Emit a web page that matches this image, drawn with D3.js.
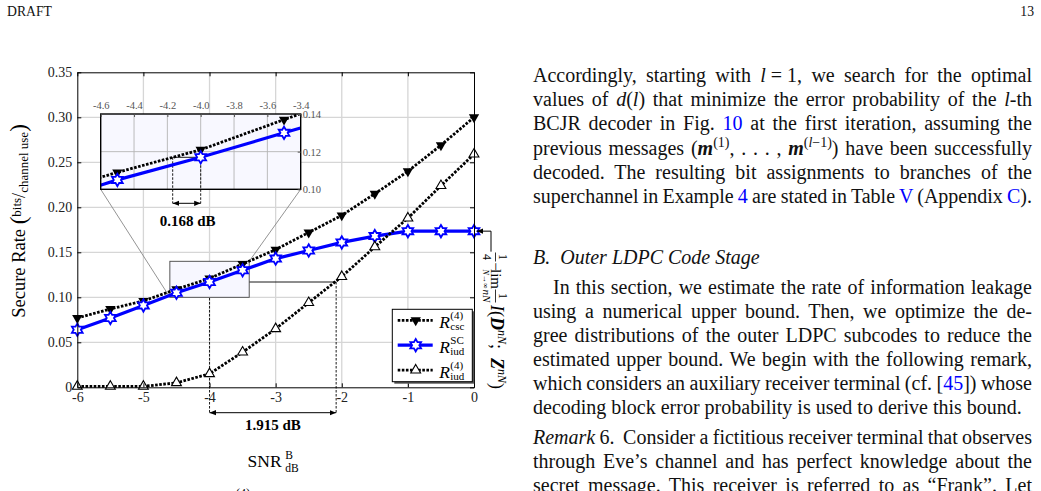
<!DOCTYPE html>
<html>
<head>
<meta charset="utf-8">
<script src="https://cdn.jsdelivr.net/npm/d3@7/dist/d3.min.js"></script>
<style>
  body { margin: 0; background: #fff; }
  #page { position: relative; width: 1041px; height: 491px; overflow: hidden;
          font-family: "Liberation Serif", "Times New Roman", serif; color: #111; }
  #page svg { position: absolute; left: 0; top: 0; }
  .ln { position: absolute; left: 533px; width: 499px; height: 24px; line-height: 24px;
        font-size: 20px; white-space: nowrap; text-align: justify; text-align-last: justify;
        word-spacing: -2px; }
  .ln.last { text-align-last: left; word-spacing: 0; }
  .lk { color: #0000ff; }
  .sp { font-size: 14px; position: relative; top: -8px; line-height: 0; }
</style>
</head>
<body>
<div id="page"></div>
<script>
// values
var snr    = [-6, -5.5, -5, -4.5, -4, -3.5, -3, -2.5, -2, -1.5, -1, -0.5, 0];
var rCsc   = [0.077, 0.087, 0.096, 0.109, 0.121, 0.137, 0.153, 0.172, 0.191, 0.215, 0.240, 0.269, 0.300];
var rIudSC = [0.064, 0.077, 0.091, 0.105, 0.117, 0.130, 0.143, 0.152, 0.161, 0.168, 0.1735, 0.1735, 0.1735];
var rIud4  = [0.001, 0.001, 0.001, 0.005, 0.015, 0.039, 0.065, 0.094, 0.123, 0.156, 0.188, 0.224, 0.259];
var xTicks = [-6, -5, -4, -3, -2, -1, 0];
var yTicks = [0, 0.05, 0.10, 0.15, 0.20, 0.25, 0.30, 0.35];
var zoomX = [-4.6, -3.4];
var zoomY = [0.10, 0.14];
var zoomXTicks = [-4.6, -4.4, -4.2, -4.0, -3.8, -3.6, -3.4];
var zoomYTicks = [0.10, 0.12, 0.14];
var refSnr = -4;        // where the gaps are measured
var gapSmall = 0.168;   // dB, csc vs SC
var gapBig = 1.915;     // dB, SC vs iud(4)

var series = [
  {name: "csc", vals: rCsc,   color: "#000", dash: "2.6,1.5", w: 2.8, mark: "down", sup: "(4)", sub: "csc"},
  {name: "sc",  vals: rIudSC, color: "#0000ff", dash: null,   w: 3.2, mark: "hex",  sup: "SC",  sub: "iud"},
  {name: "iud", vals: rIud4,  color: "#000", dash: "2.6,1.5", w: 2.8, mark: "up",   sup: "(4)", sub: "iud"}
];

var margin = {top: 72.3, right: 567, bottom: 103.7, left: 77.3},
    W = 1041, H = 491;

var page = d3.select("#page");
var svg = page.append("svg").attr("width", W).attr("height", H)
    .style("font-family", '"Liberation Serif","Times New Roman",serif');

var x = d3.scaleLinear().domain([-6, 0]).range([margin.left, W - margin.right]);
var y = d3.scaleLinear().domain([0, 0.35]).range([H - margin.bottom, margin.top]);

var defs = svg.append("defs");
defs.append("marker").attr("id", "arr").attr("viewBox", "0 0 10 10")
    .attr("refX", 10).attr("refY", 5).attr("markerWidth", 6.5).attr("markerHeight", 6.5)
    .attr("markerUnits", "userSpaceOnUse").attr("orient", "auto-start-reverse")
  .append("path").attr("d", "M0,1L10,5L0,9Z").attr("fill", "#000");

// header
svg.append("text").attr("x", 7).attr("y", 16).attr("font-size", 13.7).attr("fill", "#111").text("DRAFT");
svg.append("text").attr("x", 1034).attr("y", 16).attr("font-size", 13.7).attr("fill", "#111")
    .attr("text-anchor", "end").text("13");

// grid
var grid = svg.append("g").attr("stroke", "#d6d6d6").attr("stroke-width", 1.3);
grid.selectAll(".gx").data(xTicks.slice(1, -1)).enter().append("line")
    .attr("x1", d => x(d)).attr("x2", d => x(d)).attr("y1", y(0)).attr("y2", y(0.35));
grid.selectAll(".gy").data(yTicks.slice(1, -1)).enter().append("line")
    .attr("x1", x(-6)).attr("x2", x(0)).attr("y1", d => y(d)).attr("y2", d => y(d));

// gap annotation on the main plot
var yRef = y(rIudSC[snr.indexOf(refSnr)]);
var xL = x(refSnr), xR = x(refSnr + gapBig), arrowY = y(0) + 25.4;
var ann = svg.append("g").attr("stroke", "#000").attr("fill", "none");
ann.append("line").attr("x1", xL).attr("x2", xR).attr("y1", yRef).attr("y2", yRef).attr("stroke-width", 0.9);
ann.selectAll(".dv").data([xL, xR]).enter().append("line")
    .attr("x1", d => d).attr("x2", d => d).attr("y1", yRef).attr("y2", arrowY)
    .attr("stroke-width", 0.9).attr("stroke-dasharray", "2.5,1.5");
ann.append("line").attr("x1", xL).attr("x2", xR).attr("y1", arrowY).attr("y2", arrowY)
    .attr("stroke-width", 1).attr("marker-start", "url(#arr)").attr("marker-end", "url(#arr)");
svg.append("text").attr("x", (xL + xR) / 2).attr("y", arrowY + 17.5).attr("text-anchor", "middle")
    .attr("font-size", 15).attr("font-weight", "bold").text(gapBig.toFixed(3) + " dB");

// zoom window on the main plot
svg.append("rect").attr("x", x(zoomX[0])).attr("y", y(zoomY[1]))
    .attr("width", x(zoomX[1]) - x(zoomX[0])).attr("height", y(zoomY[0]) - y(zoomY[1]))
    .attr("fill", "#f7f7ff").attr("stroke", "#444").attr("stroke-width", 0.9);

// inset scales
var xi = d3.scaleLinear().domain(zoomX).range([100.7, 300.7]);
var yi = d3.scaleLinear().domain(zoomY).range([189.3, 114]);

// connectors
var con = svg.append("g").attr("stroke", "#888").attr("stroke-width", 0.9);
con.append("line").attr("x1", x(zoomX[0])).attr("y1", y(zoomY[0])).attr("x2", xi(zoomX[0])).attr("y2", yi(zoomY[0]));
con.append("line").attr("x1", x(zoomX[1])).attr("y1", y(zoomY[1])).attr("x2", xi(zoomX[1])).attr("y2", yi(zoomY[0]));

// markers
var hexPath = d3.lineRadial().curve(d3.curveLinearClosed)
    .angle((d, i) => i * Math.PI / 6).radius((d, i) => i % 2 ? 6.2 / Math.sqrt(3) : 6.2)(d3.range(12));
function drawMarker(g, type, cx, cy) {
  if (type === "down") {
    g.append("path").attr("d", d3.symbol(d3.symbolTriangle, 46)())
      .attr("transform", "translate(" + cx + "," + cy + ") rotate(180)").attr("fill", "#000");
  } else if (type === "up") {
    g.append("path").attr("d", d3.symbol(d3.symbolTriangle, 42)())
      .attr("transform", "translate(" + cx + "," + cy + ")")
      .attr("fill", "#fff").attr("stroke", "#000").attr("stroke-width", 1.1);
  } else {
    g.append("path").attr("d", hexPath)
      .attr("transform", "translate(" + cx + "," + cy + ")")
      .attr("fill", "#fff").attr("stroke", "#0000ff").attr("stroke-width", 1.8);
  }
}

function drawSeries(g, sx, sy) {
  series.forEach(function (s) {
    var line = d3.line().x((d, i) => sx(snr[i])).y(d => sy(d));
    g.append("path").datum(s.vals).attr("d", line).attr("fill", "none")
      .attr("stroke", s.color).attr("stroke-width", s.w)
      .attr("stroke-dasharray", s.dash);
    s.vals.forEach(function (v, i) { drawMarker(g, s.mark, sx(snr[i]), sy(v)); });
  });
}

drawSeries(svg.append("g"), x, y);

// axes, ticks pointing inwards on all four sides
function styleAxis(g) {
  g.select(".domain").attr("stroke", "#000").attr("stroke-width", 1);
  g.selectAll(".tick line").attr("stroke", "#000");
  g.selectAll(".tick text").attr("fill", "#222").attr("font-size", 14)
    .attr("font-family", '"Liberation Serif","Times New Roman",serif');
}
svg.append("g").attr("transform", "translate(0," + y(0) + ")")
  .call(d3.axisBottom(x).tickValues(xTicks).tickFormat(d => String(d)).tickSizeInner(-4).tickSizeOuter(0).tickPadding(5))
  .call(styleAxis);
svg.append("g").attr("transform", "translate(0," + y(0.35) + ")")
  .call(d3.axisTop(x).tickValues(xTicks).tickFormat("").tickSizeInner(-4).tickSizeOuter(0))
  .call(styleAxis);
svg.append("g").attr("transform", "translate(" + x(-6) + ",0)")
  .call(d3.axisLeft(y).tickValues(yTicks).tickFormat(d => d === 0 ? "0" : d.toFixed(2)).tickSizeInner(-4).tickSizeOuter(0).tickPadding(5))
  .call(styleAxis);
svg.append("g").attr("transform", "translate(" + x(0) + ",0)")
  .call(d3.axisRight(y).tickValues(yTicks).tickFormat("").tickSizeInner(-4).tickSizeOuter(0))
  .call(styleAxis);

// inset
var inset = svg.append("g");
defs.append("clipPath").attr("id", "zclip").append("rect")
    .attr("x", xi(zoomX[0])).attr("y", yi(zoomY[1]))
    .attr("width", xi(zoomX[1]) - xi(zoomX[0])).attr("height", yi(zoomY[0]) - yi(zoomY[1]));
inset.append("rect").attr("x", xi(zoomX[0])).attr("y", yi(zoomY[1]))
    .attr("width", xi(zoomX[1]) - xi(zoomX[0])).attr("height", yi(zoomY[0]) - yi(zoomY[1]))
    .attr("fill", "#f8f8ff");
var ig = inset.append("g").attr("stroke", "#b4b4b4").attr("stroke-width", 0.9);
ig.selectAll(".ix").data(zoomXTicks.slice(1, -1)).enter().append("line")
    .attr("x1", d => xi(d)).attr("x2", d => xi(d)).attr("y1", yi(zoomY[0])).attr("y2", yi(zoomY[1]));
ig.selectAll(".iy").data(zoomYTicks.slice(1, -1)).enter().append("line")
    .attr("x1", xi(zoomX[0])).attr("x2", xi(zoomX[1])).attr("y1", d => yi(d)).attr("y2", d => yi(d));

// 0.168 dB annotation inside the inset
var xa = xi(refSnr - gapSmall), xb = xi(refSnr), ya = yi(rIudSC[snr.indexOf(refSnr)]), arrowYi = yi(zoomY[0]) + 14;
var ia = inset.append("g").attr("stroke", "#000");
ia.append("line").attr("x1", xa).attr("x2", xb).attr("y1", ya).attr("y2", ya).attr("stroke-width", 0.9);
ia.selectAll(".dv").data([xa, xb]).enter().append("line")
    .attr("x1", d => d).attr("x2", d => d).attr("y1", ya).attr("y2", arrowYi)
    .attr("stroke-width", 0.9).attr("stroke-dasharray", "2.5,1.5");
ia.append("line").attr("x1", xa).attr("x2", xb).attr("y1", arrowYi).attr("y2", arrowYi)
    .attr("stroke-width", 1).attr("marker-start", "url(#arr)").attr("marker-end", "url(#arr)");
svg.append("text").attr("x", (xa + xb) / 2 + 1).attr("y", arrowYi + 22.5).attr("text-anchor", "middle")
    .attr("font-size", 15).attr("font-weight", "bold").text(gapSmall.toFixed(3) + " dB");

drawSeries(inset.append("g").attr("clip-path", "url(#zclip)"), xi, yi);

inset.append("rect").attr("x", xi(zoomX[0])).attr("y", yi(zoomY[1]))
    .attr("width", xi(zoomX[1]) - xi(zoomX[0])).attr("height", yi(zoomY[0]) - yi(zoomY[1]))
    .attr("fill", "none").attr("stroke", "#000").attr("stroke-width", 1.4);
function styleInsetAxis(g) {
  g.select(".domain").remove();
  g.selectAll(".tick line").attr("stroke", "#555");
  g.selectAll(".tick text").attr("fill", "#555").attr("font-size", 10.5)
    .attr("font-family", '"Liberation Serif","Times New Roman",serif');
}
inset.append("g").attr("transform", "translate(0," + yi(zoomY[1]) + ")")
  .call(d3.axisTop(xi).tickValues(zoomXTicks).tickFormat(d => d.toFixed(1)).tickSizeInner(-3).tickSizeOuter(0).tickPadding(5))
  .call(styleInsetAxis);
inset.append("g").attr("transform", "translate(" + xi(zoomX[1]) + ",0)")
  .call(d3.axisRight(yi).tickValues(zoomYTicks).tickFormat(d => d.toFixed(2)).tickSizeInner(-3).tickSizeOuter(0).tickPadding(2))
  .call(styleInsetAxis);

// legend
var lg = svg.append("g").attr("transform", "translate(392.3,309.3)");
lg.append("rect").attr("x", 2).attr("y", 2).attr("width", 80).attr("height", 72.4).attr("fill", "#555");
lg.append("rect").attr("width", 80).attr("height", 72.4).attr("fill", "#fff").attr("stroke", "#000").attr("stroke-width", 1);
series.forEach(function (s, i) {
  var ly = 11 + i * 24.9;
  lg.append("line").attr("x1", 5.4).attr("x2", 40.4).attr("y1", ly).attr("y2", ly)
    .attr("stroke", s.color).attr("stroke-width", s.w).attr("stroke-dasharray", s.dash);
  drawMarker(lg, s.mark, 23.4, ly);
  lg.append("text").attr("x", 47).attr("y", ly + 8).attr("font-size", 17.5).attr("font-style", "italic").text("R");
  lg.append("text").attr("x", 58).attr("y", ly - 1).attr("font-size", 11).text(s.sup);
  lg.append("text").attr("x", 58).attr("y", ly + 10).attr("font-size", 11).text(s.sub);
});

// right-hand label, arrow points at the SC plateau
var plateau = y(rIudSC[rIudSC.length - 1]);
svg.append("path").attr("d", "M" + (x(0) + 17) + "," + (plateau + 20.5) + "V" + plateau + "H" + (x(0) + 2.5))
    .attr("fill", "none").attr("stroke", "#000").attr("stroke-width", 1).attr("marker-end", "url(#arr)");
var rl = svg.append("g").attr("transform", "translate(" + (x(0) + 17) + ",237) rotate(90)").attr("fill", "#000");
rl.append("text").attr("x", 20).attr("y", -8).attr("text-anchor", "middle").attr("font-size", 12).text("1");
rl.append("line").attr("x1", 15.5).attr("x2", 24.5).attr("y1", -4.5).attr("y2", -4.5).attr("stroke", "#000").attr("stroke-width", 0.8);
rl.append("text").attr("x", 20).attr("y", 8).attr("text-anchor", "middle").attr("font-size", 12).text("4");
rl.append("text").attr("x", 29.5).attr("y", 0).attr("text-anchor", "middle").attr("font-size", 15).text("\u2212");
rl.append("text").attr("x", 42).attr("y", 0).attr("text-anchor", "middle").attr("font-size", 15).text("lim");
var nt = rl.append("text").attr("x", 42).attr("y", 8.5).attr("text-anchor", "middle").attr("font-size", 8);
nt.append("tspan").attr("font-style", "italic").text("N");
nt.append("tspan").text("\u2192\u221e");
rl.append("text").attr("x", 59).attr("y", -8).attr("text-anchor", "middle").attr("font-size", 12).text("1");
rl.append("line").attr("x1", 52.5).attr("x2", 65.5).attr("y1", -4.5).attr("y2", -4.5).attr("stroke", "#000").attr("stroke-width", 0.8);
rl.append("text").attr("x", 59).attr("y", 8).attr("text-anchor", "middle").attr("font-size", 11).attr("font-style", "italic").text("nN");
var it = rl.append("text").attr("x", 68).attr("y", 0).attr("font-size", 18);
it.append("tspan").attr("font-style", "italic").text("I");
it.append("tspan").text("(");
it.append("tspan").attr("font-style", "italic").attr("font-weight", "bold").text("D");
it.append("tspan").attr("font-style", "italic").attr("font-size", 12).attr("dy", -7).text("nN");
it.append("tspan").attr("dy", 7).text(";\u2002");
it.append("tspan").attr("font-style", "italic").attr("font-weight", "bold").text("Z");
it.append("tspan").attr("font-style", "italic").attr("font-size", 12).attr("dy", -7).text("nN");
it.append("tspan").attr("dy", 7).text(")");

// axis titles
var yl = svg.append("text").attr("transform", "translate(25,221) rotate(-90)")
    .attr("text-anchor", "middle").attr("font-size", 18.5).attr("fill", "#000");
yl.append("tspan").text("Secure Rate ");
yl.append("tspan").attr("font-size", 23).attr("dy", 1).text("(");
yl.append("tspan").attr("font-size", 13).attr("dy", -5).text("bits");
yl.append("tspan").attr("font-size", 18).attr("dy", 4).text("/");
yl.append("tspan").attr("font-size", 13).attr("dy", 3).text("channel use");
yl.append("tspan").attr("font-size", 23).attr("dy", -2).text(")");

var xt = svg.append("g").attr("fill", "#000");
xt.append("text").attr("x", x(-3) + 6).attr("y", 467).attr("text-anchor", "end").attr("font-size", 17.5).text("SNR");
xt.append("text").attr("x", x(-3) + 9.5).attr("y", 459).attr("font-size", 11.5).text("B");
xt.append("text").attr("x", x(-3) + 9.5).attr("y", 472).attr("font-size", 11.5).text("dB");
// top of the next caption line, cut by the page edge as in the scan
svg.append("text").attr("x", 236).attr("y", 497).attr("font-size", 12).text("(4)");

// right column text
var blocks = [
  {base: 81.7, step: 24.2, lines: [
    'Accordingly, starting with <i>l</i>&#8197;=&#8197;1, we search for the optimal',
    'values of <i>d</i>(<i>l</i>) that minimize the error probability of the <i>l</i>-th',
    'BCJR decoder in Fig. <span class="lk">10</span> at the first iteration, assuming the',
    'previous messages (<b><i>m</i></b><span class="sp">(1)</span>, . . . , <b><i>m</i></b><span class="sp">(<i>l</i>\u22121)</span>) have been successfully',
    'decoded. The resulting bit assignments to branches of the',
    'superchannel in Example <span class="lk">4</span> are stated in Table <span class="lk">V</span> (Appendix <span class="lk">C</span>).'
  ], lastLeft: false},
  {base: 263.3, step: 24.1, lines: ['<i>B.&nbsp; Outer LDPC Code Stage</i>'], lastLeft: true},
  {base: 293.3, step: 24.1, indent: 20, lines: [
    'In this section, we estimate the rate of information leakage',
    'using a numerical upper bound. Then, we optimize the de-',
    'gree distributions of the outer LDPC subcodes to reduce the',
    'estimated upper bound. We begin with the following remark,',
    'which considers an auxiliary receiver terminal (cf. [<span class="lk">45</span>]) whose',
    'decoding block error probability is used to derive this bound.'
  ], lastLeft: true},
  {base: 443.3, step: 24.1, lines: [
    '<i>Remark</i> 6.&nbsp; Consider a fictitious receiver terminal that observes',
    'through Eve\u2019s channel and has perfect knowledge about the',
    'secret message. This receiver is referred to as \u201cFrank\u201d. Let'
  ], lastLeft: false}
];
blocks.forEach(function (b) {
  b.lines.forEach(function (t, i) {
    var last = b.lastLeft && i === b.lines.length - 1;
    var ind = (i === 0 && b.indent) ? b.indent : 0;
    page.append("div").attr("class", "ln" + (last ? " last" : ""))
      .style("top", (b.base + i * b.step - 18.75) + "px")
      .style("left", (533 + ind) + "px").style("width", (499 - ind) + "px")
      .html(t);
  });
});
</script>
</body>
</html>
